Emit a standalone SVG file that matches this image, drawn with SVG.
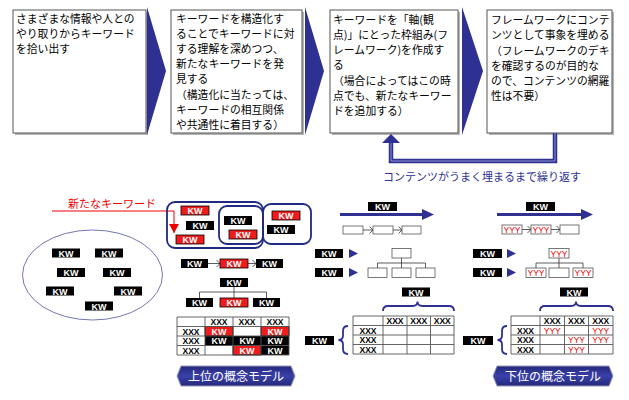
<svg xmlns="http://www.w3.org/2000/svg" width="629" height="400" viewBox="0 0 629 400">
<defs>
<style>
.box{fill:#fff;stroke:#555;stroke-width:1}
.shd{fill:#b5b5b5}
.jp{font-family:"Noto Sans CJK JP","Noto Sans",sans-serif;font-size:10.8px;fill:#000}
.nav{fill:#2e3192}
.kb{fill:#000}
.kr{fill:#ee1c1c;stroke:#000;stroke-width:0.8}
.kt{font-family:"Liberation Sans",Arial,sans-serif;font-weight:bold;font-size:9px;fill:#fff;text-anchor:middle}
.xt{font-family:"Liberation Sans",Arial,sans-serif;font-weight:bold;font-size:8.5px;fill:#000;text-anchor:middle}
.yt{font-family:"Liberation Sans",Arial,sans-serif;font-size:8.5px;fill:#e00;text-anchor:middle}
.sb{fill:#fff;stroke:#555;stroke-width:0.8}
.ln{fill:none;stroke:#333;stroke-width:0.8}
.br{fill:none;stroke:#2e3192;stroke-width:1.8}
.grp{fill:none;stroke:#1f2a80;stroke-width:1.8}
.grid{fill:none;stroke:#555;stroke-width:0.9}
.ban{font-family:"Noto Sans CJK JP","Noto Sans",sans-serif;font-size:12px;fill:#fff;text-anchor:middle}
</style>
<marker id="chev" markerWidth="6" markerHeight="8" refX="4" refY="4" orient="auto" markerUnits="userSpaceOnUse">
<path d="M0.5,0.5 L4,4 L0.5,7.5" fill="none" stroke="#333" stroke-width="0.8"/>
</marker>
<marker id="redhead" markerWidth="10" markerHeight="10" refX="5" refY="9" orient="0" markerUnits="userSpaceOnUse">
<path d="M0,0 L10,0 L5,9 Z" fill="#e00"/>
</marker>
<linearGradient id="bang" x1="0" y1="0" x2="0" y2="1">
<stop offset="0" stop-color="#23287a"/>
<stop offset="0.5" stop-color="#3a40a8"/>
<stop offset="1" stop-color="#23287a"/>
</linearGradient>
</defs>
<rect width="629" height="400" fill="#fff"/>

<!-- top step boxes -->
<g id="step1">
<rect class="shd" x="15" y="12" width="133" height="123"/>
<rect class="box" x="13" y="10" width="133" height="123"/>
<text class="jp" x="16" y="23">さまざまな情報や人との</text>
<text class="jp" x="16" y="38">やり取りからキーワード</text>
<text class="jp" x="16" y="53">を拾い出す</text>
</g>
<g id="step2">
<rect class="shd" x="173" y="12" width="131" height="123"/>
<rect class="box" x="171" y="10" width="131" height="123"/>
<text class="jp" x="176" y="23">キーワードを構造化す</text>
<text class="jp" x="176" y="38">ることでキーワードに対</text>
<text class="jp" x="176" y="53">する理解を深めつつ、</text>
<text class="jp" x="176" y="68">新たなキーワードを発</text>
<text class="jp" x="176" y="83">見する</text>
<text class="jp" x="176" y="99">（構造化に当たっては、</text>
<text class="jp" x="176" y="114">キーワードの相互関係</text>
<text class="jp" x="176" y="129">や共通性に着目する）</text>
</g>
<g id="step3">
<rect class="shd" x="332" y="12" width="128" height="123"/>
<rect class="box" x="330" y="10" width="128" height="123"/>
<text class="jp" x="333" y="23.5">キーワードを「軸(観</text>
<text class="jp" x="333" y="38.5">点)」にとった枠組み(フ</text>
<text class="jp" x="333" y="53.5">レームワーク)を作成す</text>
<text class="jp" x="333" y="68.5">る</text>
<text class="jp" x="333" y="85">（場合によってはこの時</text>
<text class="jp" x="333" y="100">点でも、新たなキーワー</text>
<text class="jp" x="333" y="115">ドを追加する）</text>
</g>
<g id="step4">
<rect class="shd" x="489" y="12" width="125" height="123"/>
<rect class="box" x="487" y="10" width="125" height="123"/>
<text class="jp" x="491" y="23.5">フレームワークにコンテ</text>
<text class="jp" x="491" y="38.5">ンツとして事象を埋める</text>
<text class="jp" x="491" y="54.5">（フレームワークのデキ</text>
<text class="jp" x="491" y="69.5">を確認するのが目的な</text>
<text class="jp" x="491" y="84.5">ので、コンテンツの網羅</text>
<text class="jp" x="491" y="99.5">性は不要）</text>
</g>

<g id="connectors">
<polygon class="nav" points="147,7 166,71 147,135"/>
<polygon class="nav" points="305,7 324,71 305,135"/>
<polygon class="nav" points="462,7 483,71 462,135"/>
<path d="M555,133 V161 H391 V143" fill="none" stroke="#2e3192" stroke-width="4.5"/>
<path d="M555,133 V161 H391 V143" fill="none" stroke="#8d91cf" stroke-width="1"/>
<polygon class="nav" points="382,143 391,134 400,143"/>
<path d="M52,211 H174 V233" fill="none" stroke="#e00" stroke-width="1" marker-end="url(#redhead)"/>
<line class="ln" x1="208" y1="263.5" x2="220" y2="263.5" marker-end="url(#chev)"/>
<line class="ln" x1="248" y1="263.5" x2="256" y2="263.5" marker-end="url(#chev)"/>
<path class="ln" d="M234,287 V298 M199.5,298 V292 H266.5 V298"/>
<line class="ln" x1="363" y1="230" x2="373" y2="230" marker-end="url(#chev)"/>
<line class="ln" x1="393" y1="230" x2="402" y2="230" marker-end="url(#chev)"/>
<path class="ln" d="M401.5,258 V268 M377.5,268 V263 H425.5 V268"/>
<line class="ln" x1="522" y1="229.5" x2="531" y2="229.5" marker-end="url(#chev)"/>
<line class="ln" x1="551" y1="229.5" x2="560" y2="229.5" marker-end="url(#chev)"/>
<path class="ln" d="M559,258 V268 M536,268 V263 H583 V268"/>
<line x1="340" y1="214.5" x2="423" y2="214.5" stroke="#2e3192" stroke-width="3"/>
<polygon class="nav" points="422,209 434,214.5 422,220"/>
<line x1="497" y1="214.5" x2="582" y2="214.5" stroke="#2e3192" stroke-width="3"/>
<polygon class="nav" points="581,209 593,214.5 581,220"/>
<polygon class="nav" points="349,249 358,253.5 349,258"/>
<polygon class="nav" points="349,268 358,272.5 349,277"/>
<polygon class="nav" points="507,249 516,253.5 507,258"/>
<polygon class="nav" points="507,268 516,272.5 507,277"/>
<path class="br" d="M383,311 Q383,306 388,306 H412.5 Q417.5,306 417.5,301.5 Q417.5,306 422.5,306 H449 Q454,306 454,311"/>
<path class="br" d="M348,326 Q343,326 343,331 V335.5 Q343,340 338.5,340 Q343,340 343,344.5 V349 Q343,354 348,354"/>
<path class="br" d="M540,311 Q540,306 545,306 H571 Q576,306 576,301.5 Q576,306 581,306 H608 Q613,306 613,311"/>
<path class="br" d="M507,326 Q502,326 502,331 V335.5 Q502,340 497.5,340 Q502,340 502,344.5 V349 Q502,354 507,354"/>
</g>

<g id="newkw">
<text x="68" y="208" style="font-family:'Noto Sans CJK JP',sans-serif;font-size:11px;fill:#e00">新たなキーワード</text>
</g>

<g id="oval">
<ellipse cx="92.5" cy="275" rx="70" ry="45" fill="none" stroke="#6466a8" stroke-width="0.9"/>
<rect class="kb" x="52" y="248.5" width="28" height="9"/><text class="kt" x="66" y="256.5">KW</text>
<rect class="kb" x="95" y="248.5" width="28" height="9"/><text class="kt" x="109" y="256.5">KW</text>
<rect class="kb" x="57" y="268" width="28" height="9"/><text class="kt" x="71" y="276">KW</text>
<rect class="kb" x="103" y="268" width="28" height="9"/><text class="kt" x="117" y="276">KW</text>
<rect class="kb" x="46" y="286.5" width="28" height="9"/><text class="kt" x="60" y="294.5">KW</text>
<rect class="kb" x="114" y="286.5" width="28" height="9"/><text class="kt" x="128" y="294.5">KW</text>
<rect class="kb" x="85" y="301.5" width="28" height="9"/><text class="kt" x="99" y="309.5">KW</text>
</g>

<g id="cluster">
<rect class="grp" x="167" y="202" width="96" height="46" rx="8"/>
<rect class="grp" x="219" y="206" width="44" height="38" rx="8"/>
<rect class="grp" x="263" y="204" width="48" height="40" rx="8"/>
<rect class="kr" x="181" y="206" width="28" height="9"/><text class="kt" x="195" y="214">KW</text>
<rect class="kb" x="186" y="221" width="28" height="9"/><text class="kt" x="200" y="229">KW</text>
<rect class="kr" x="176" y="235" width="28" height="9"/><text class="kt" x="190" y="243">KW</text>
<rect class="kb" x="224" y="216" width="28" height="9"/><text class="kt" x="238" y="224">KW</text>
<rect class="kr" x="229" y="230" width="28" height="9"/><text class="kt" x="243" y="238">KW</text>
<rect class="kr" x="272" y="211" width="28" height="9"/><text class="kt" x="286" y="219">KW</text>
<rect class="kb" x="267" y="225" width="28" height="9"/><text class="kt" x="281" y="233">KW</text>
</g>

<g id="chainL">
<rect class="kb" x="181" y="259" width="27" height="9"/><text class="kt" x="194.5" y="267">KW</text>
<rect class="kr" x="220" y="259" width="28" height="9"/><text class="kt" x="234" y="267">KW</text>
<rect class="kb" x="256" y="259" width="27" height="9"/><text class="kt" x="269.5" y="267">KW</text>
</g>

<g id="treeL">
<rect class="kb" x="220" y="278" width="28" height="9"/><text class="kt" x="234" y="286">KW</text>
<rect class="kb" x="186" y="298" width="27" height="9"/><text class="kt" x="199.5" y="306">KW</text>
<rect class="kr" x="220" y="298" width="28" height="9"/><text class="kt" x="234" y="306">KW</text>
<rect class="kb" x="253" y="298" width="27" height="9"/><text class="kt" x="266.5" y="306">KW</text>
</g>

<g id="tableL">
<rect x="177" y="317" width="112" height="38" fill="#fff"/>
<rect class="kr" x="205" y="326.5" width="28" height="9.5"/><text class="kt" x="219" y="334.5">KW</text>
<rect class="kr" x="261" y="326.5" width="28" height="9.5"/><text class="kt" x="275" y="334.5">KW</text>
<rect class="kb" x="205" y="336" width="28" height="9.5"/><text class="kt" x="219" y="344">KW</text>
<rect class="kb" x="233" y="336" width="28" height="9.5"/><text class="kt" x="247" y="344">KW</text>
<rect class="kb" x="261" y="336" width="28" height="9.5"/><text class="kt" x="275" y="344">KW</text>
<rect class="kr" x="233" y="345.5" width="28" height="9.5"/><text class="kt" x="247" y="353.5">KW</text>
<rect class="kb" x="261" y="345.5" width="28" height="9.5"/><text class="kt" x="275" y="353.5">KW</text>
<path class="grid" d="M177,317 H289 V355 H177 Z M177,326.5 H289 M177,336 H289 M177,345.5 H289 M205,317 V355 M233,317 V355 M261,317 V355"/>
<text class="xt" x="219" y="325">XXX</text><text class="xt" x="247" y="325">XXX</text><text class="xt" x="275" y="325">XXX</text>
<text class="xt" x="191" y="334.5">XXX</text><text class="xt" x="191" y="344">XXX</text><text class="xt" x="191" y="353.5">XXX</text>
</g>

<g id="bannerL">
<polygon points="177,376 181,366 291,366 295,376 291,386 181,386" fill="url(#bang)" stroke="#9a9ab8" stroke-width="1"/>
<text class="ban" x="236" y="380.5">上位の概念モデル</text>
</g>

<g id="midTop">
<rect class="kb" x="368" y="202" width="29" height="9"/><text class="kt" x="382.5" y="210">KW</text>
<rect class="sb" x="343" y="226" width="20" height="8"/>
<rect class="sb" x="373" y="226" width="20" height="8"/>
<rect class="sb" x="402" y="226" width="19" height="8"/>
</g>
<g id="midTree">
<rect class="kb" x="315" y="249" width="28" height="9"/><text class="kt" x="329" y="257">KW</text>
<rect class="kb" x="315" y="268" width="28" height="9"/><text class="kt" x="329" y="276">KW</text>
<rect class="sb" x="392" y="248.5" width="19" height="9.5"/>
<rect class="sb" x="368" y="268" width="19" height="9.5"/>
<rect class="sb" x="392" y="268" width="19" height="9.5"/>
<rect class="sb" x="416" y="268" width="19" height="9.5"/>
</g>
<g id="midTable">
<rect class="kb" x="402" y="287.5" width="28" height="9"/><text class="kt" x="416" y="295.5">KW</text>
<rect class="kb" x="305" y="336" width="29" height="9"/><text class="kt" x="319.5" y="344">KW</text>
<rect x="353" y="316" width="101" height="38" fill="#fff"/>
<path class="grid" d="M353,316 H454 V354 H353 Z M353,325.5 H454 M353,335 H454 M353,344.5 H454 M383,316 V354 M407,316 V354 M430.5,316 V354"/>
<text class="xt" x="395" y="324">XXX</text><text class="xt" x="418.8" y="324">XXX</text><text class="xt" x="442.3" y="324">XXX</text>
<text class="xt" x="368" y="333.5">XXX</text><text class="xt" x="368" y="343">XXX</text><text class="xt" x="368" y="352.5">XXX</text>
</g>

<g id="rightTop">
<rect class="kb" x="526" y="202" width="29" height="9"/><text class="kt" x="540.5" y="210">KW</text>
<rect class="sb" x="502" y="225" width="20" height="9"/><text class="yt" x="512" y="233">YYY</text>
<rect class="sb" x="531" y="225" width="20" height="9"/><text class="yt" x="541" y="233">YYY</text>
<rect class="sb" x="560" y="225" width="19" height="9"/>
</g>
<g id="rightTree">
<rect class="kb" x="473" y="249" width="29" height="9"/><text class="kt" x="487.5" y="257">KW</text>
<rect class="kb" x="473" y="268" width="29" height="9"/><text class="kt" x="487.5" y="276">KW</text>
<rect class="sb" x="549" y="248.5" width="20" height="9.5"/><text class="yt" x="559" y="256.5">YYY</text>
<rect class="sb" x="526" y="268" width="20" height="9.5"/><text class="yt" x="536" y="276">YYY</text>
<rect class="sb" x="549" y="268" width="20" height="9.5"/>
<rect class="sb" x="573" y="268" width="20" height="9.5"/><text class="yt" x="583" y="276">YYY</text>
</g>
<g id="rightTable">
<rect class="kb" x="560" y="287.5" width="28" height="9"/><text class="kt" x="574" y="295.5">KW</text>
<rect class="kb" x="463" y="336" width="30" height="9"/><text class="kt" x="478" y="344">KW</text>
<rect x="511" y="316" width="102" height="38" fill="#fff"/>
<path class="grid" d="M511,316 H613 V354 H511 Z M511,325.5 H613 M511,335 H613 M511,344.5 H613 M540,316 V354 M564.5,316 V354 M588.5,316 V354"/>
<text class="xt" x="552.3" y="324">XXX</text><text class="xt" x="576.5" y="324">XXX</text><text class="xt" x="600.8" y="324">XXX</text>
<text class="xt" x="525.5" y="333.5">XXX</text><text class="xt" x="525.5" y="343">XXX</text><text class="xt" x="525.5" y="352.5">XXX</text>
<text class="yt" x="552.3" y="333.5">YYY</text><text class="yt" x="600.8" y="333.5">YYY</text>
<text class="yt" x="576.5" y="343">YYY</text><text class="yt" x="600.8" y="343">YYY</text>
<text class="yt" x="576.5" y="352.5">YYY</text>
</g>
<g id="bannerR">
<polygon points="493,376 497,366 609,366 613,376 609,386 497,386" fill="url(#bang)" stroke="#9a9ab8" stroke-width="1"/>
<text class="ban" x="553" y="380.5">下位の概念モデル</text>
</g>
<g id="repeat">
<text x="383" y="181" style="font-family:'Noto Sans CJK JP',sans-serif;font-size:11px;fill:#2e3192">コンテンツがうまく埋まるまで繰り返す</text>
</g>
</svg>
